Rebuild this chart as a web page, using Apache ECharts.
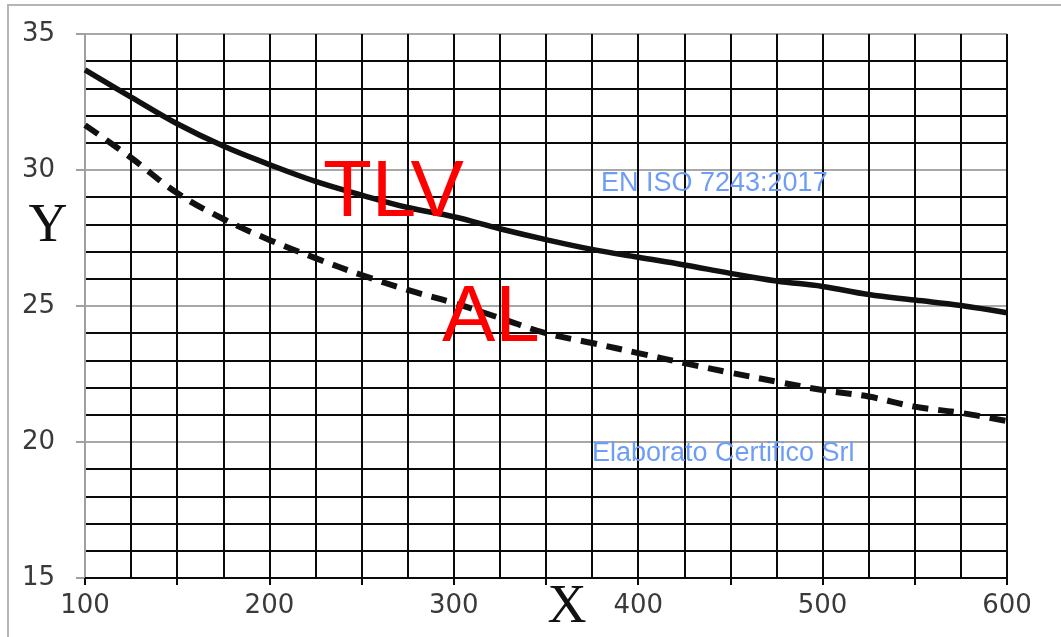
<!DOCTYPE html>
<html>
<head>
<meta charset="utf-8">
<script src="https://cdn.jsdelivr.net/npm/echarts@6/dist/echarts.min.js"></script>
<style>
html,body{margin:0;padding:0;background:#fff;}
#chart{width:1061px;height:637px;}
</style>
</head>
<body>
<div id="chart"></div>
<script>
// X values (every 25)
var xValues = [100,125,150,175,200,225,250,275,300,325,350,375,400,425,450,475,500,525,550,575,600];
// TLV curve (solid)
var tlvValues = [33.68,32.68,31.7,30.88,30.2,29.58,29.08,28.62,28.28,27.84,27.44,27.08,26.79,26.51,26.2,25.92,25.72,25.42,25.22,25.02,24.75];
// AL curve (dashed)
var alValues = [31.65,30.45,29.15,28.2,27.43,26.76,26.14,25.59,25.11,24.56,24.0,23.64,23.27,22.9,22.55,22.22,21.91,21.67,21.3,21.07,20.77];
// Axis ranges / ticks
var xMin = 100, xMax = 600, xInterval = 50, xLabelStep = 100;
var yMin = 15, yMax = 35, yInterval = 5;
// Annotation texts
var seriesLabels = ['TLV', 'AL'];
var noteTexts = ['EN ISO 7243:2017', 'Elaborato Certifico Srl'];
var axisNames = ['X', 'Y'];

function pairs(xs, ys){ return xs.map(function(x,i){ return [x, ys[i]]; }); }

var xSplitColors = [];
for (var v = xMin; v <= xMax; v += xInterval) xSplitColors.push(v === xMin ? '#a0a0a0' : '#0a0a0a');

var chart = echarts.init(document.getElementById('chart'), null, {renderer:'canvas'});
chart.setOption({
  animation: false,
  backgroundColor: '#ffffff',
  grid: {left: 85, right: 54, top: 34, bottom: 59, containLabel: false},
  xAxis: {
    type: 'value', min: xMin, max: xMax, interval: xInterval,
    axisLine: {show: true, onZero: false, lineStyle: {color: '#0a0a0a', width: 2.2}},
    axisTick: {show: true, length: 7, lineStyle: {color: '#0a0a0a', width: 2}},
    axisLabel: {
      margin: 15, color: '#3a3a3a', fontFamily: 'DejaVu Sans', fontSize: 26,
      formatter: function(v){ return v % xLabelStep === 0 ? String(v) : ''; }
    },
    splitLine: {show: true, lineStyle: {color: xSplitColors, width: 2}},
    minorTick: {show: false, splitNumber: 2},
    minorSplitLine: {show: true, lineStyle: {color: '#0a0a0a', width: 2}}
  },
  yAxis: {
    type: 'value', min: yMin, max: yMax, interval: yInterval,
    axisLine: {show: true, onZero: false, lineStyle: {color: '#a0a0a0', width: 2}},
    axisTick: {show: true, length: 9, lineStyle: {color: '#a0a0a0', width: 2}},
    axisLabel: {margin: 30, color: '#3a3a3a', fontFamily: 'DejaVu Sans', fontSize: 26},
    splitLine: {show: true, lineStyle: {color: '#a8a8a8', width: 2}},
    minorTick: {show: false, splitNumber: 5},
    minorSplitLine: {show: true, lineStyle: {color: '#0a0a0a', width: 2}}
  },
  series: [
    {
      name: seriesLabels[0], type: 'line', data: pairs(xValues, tlvValues),
      smooth: 0.4, showSymbol: false, symbol: 'none',
      lineStyle: {color: '#111', width: 5.5}, z: 5
    },
    {
      name: seriesLabels[1], type: 'line', data: pairs(xValues, alValues),
      smooth: 0.4, showSymbol: false, symbol: 'none',
      lineStyle: {color: '#111', width: 6, type: [16, 10]}, z: 5
    }
  ],
  graphic: [
    {type: 'rect', silent: true, z: 0, shape: {x: 8, y: 5, width: 1200, height: 800},
     style: {fill: 'none', stroke: '#b5b5b5', lineWidth: 2}},
    {type: 'text', z: 10, x: 323, y: 194,
     style: {text: seriesLabels[0], font: '80px "Liberation Sans", Arial, sans-serif', fill: '#ff0000', textAlign: 'left', textVerticalAlign: 'middle'}},
    {type: 'text', z: 10, x: 442, y: 319,
     style: {text: seriesLabels[1], font: '80px "Liberation Sans", Arial, sans-serif', fill: '#ff0000', textAlign: 'left', textVerticalAlign: 'middle'}},
    {type: 'text', z: 10, x: 601, y: 184,
     style: {text: noteTexts[0], font: '27px "Liberation Sans", Arial, sans-serif', fill: '#6e9df7', textAlign: 'left', textVerticalAlign: 'middle'}},
    {type: 'text', z: 10, x: 592, y: 454,
     style: {text: noteTexts[1], font: '27px "Liberation Sans", Arial, sans-serif', fill: '#6e9df7', textAlign: 'left', textVerticalAlign: 'middle'}},
    {type: 'text', z: 10, x: 567, y: 608,
     style: {text: axisNames[0], font: '54px "Liberation Serif", "Times New Roman", serif', fill: '#111', textAlign: 'center', textVerticalAlign: 'middle'}},
    {type: 'text', z: 10, x: 48, y: 227,
     style: {text: axisNames[1], font: '54px "Liberation Serif", "Times New Roman", serif', fill: '#111', textAlign: 'center', textVerticalAlign: 'middle'}}
  ]
});
</script>
</body>
</html>
